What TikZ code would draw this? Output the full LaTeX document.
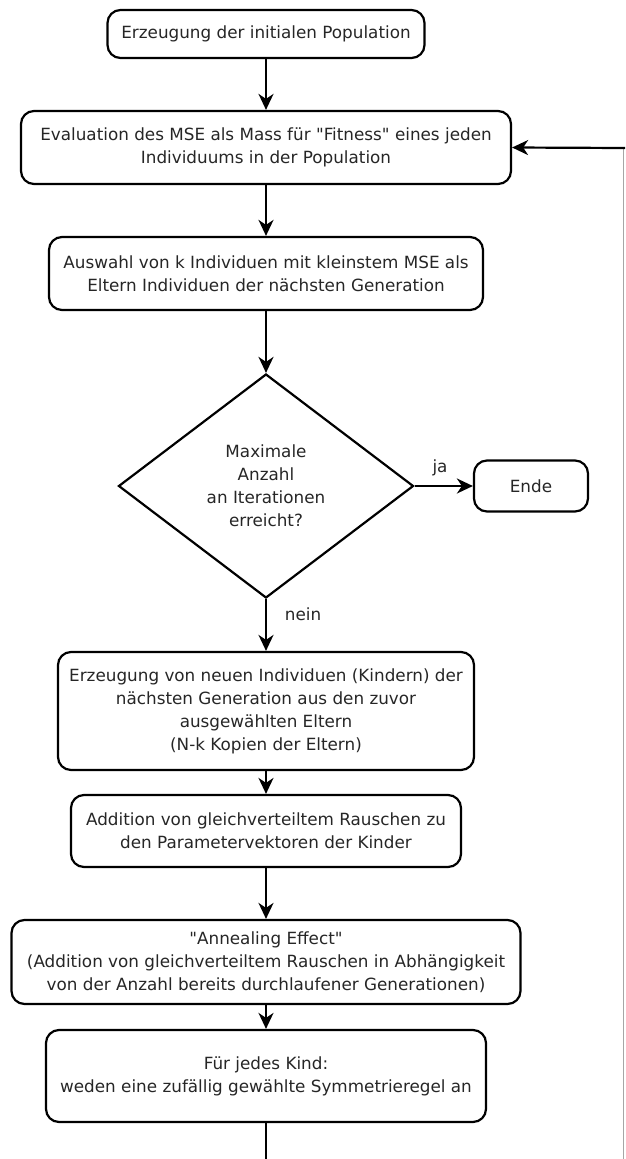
\documentclass[tikz,border=0pt]{standalone}
\usepackage{fontspec}
\setmainfont{DejaVu Sans}[Ligatures=TeXOff]
\usetikzlibrary{shapes.geometric,arrows.meta}
\begin{document}
\begin{tikzpicture}[x=1pt,y=-1pt,
  every node/.style={font=\fontsize{16.8}{23}\selectfont, text=black!85},
  box/.style={draw=black, line width=2.2pt, rounded corners=13pt, align=center, inner sep=0pt},
  dec/.style={draw=black, line width=2.2pt, shape=diamond, align=center, inner sep=0pt},
  flow/.style={line width=2.2pt, -{Stealth[length=16pt,width=15pt,inset=5pt]}},
  plain/.style={line width=2.2pt}
]
\useasboundingbox (0,0) rectangle (625,1159);
\node[box, minimum width=317pt, minimum height=48pt] (b1) at (266,34) {Erzeugung der initialen Population};
\node[box, minimum width=490pt, minimum height=73pt] (b2) at (266,147.5) {Evaluation des MSE als Mass für "Fitness" eines jeden\\Individuums in der Population};
\node[box, minimum width=434pt, minimum height=73pt] (b3) at (266,273.5) {Auswahl von k Individuen mit kleinstem MSE als\\Eltern Individuen der nächsten Generation};
\node[dec, minimum width=295pt, minimum height=224pt] (d) at (266,486) {Maximale\\Anzahl\\an Iterationen\\erreicht?};
\node[box, minimum width=114pt, minimum height=51pt] (end) at (531,486) {Ende};
\node[box, minimum width=416pt, minimum height=118pt] (b5) at (266,711) {Erzeugung von neuen Individuen (Kindern) der\\nächsten Generation aus den zuvor\\ausgewählten Eltern\\(N-k Kopien der Eltern)};
\node[box, minimum width=390pt, minimum height=72pt] (b6) at (266,831) {Addition von gleichverteiltem Rauschen zu\\den Parametervektoren der Kinder};
\node[box, minimum width=509pt, minimum height=84pt] (b7) at (266,962) {"Annealing Effect"\\(Addition von gleichverteiltem Rauschen in Abhängigkeit\\von der Anzahl bereits durchlaufener Generationen)};
\node[box, minimum width=440pt, minimum height=92pt] (b8) at (266,1076) {Für jedes Kind:\\weden eine zufällig gewählte Symmetrieregel an};
\node (ja) at (440,468) {ja};
\node (nein) at (303,614) {nein};
\coordinate (bot) at (266,1159);
\coordinate (loopB) at (623.5,1159);
\coordinate (loopT) at (623.5,148);
\coordinate (loopE) at (625,148);
\draw[flow] (b1) -- (b2);
\draw[flow] (b2) -- (b3);
\draw[flow] (b3) -- (d);
\draw[flow] (d.east) -- (end.west);
\draw[flow] (d.south) -- (b5.north);
\draw[flow] (b5) -- (b6);
\draw[flow] (b6) -- (b7);
\draw[flow] (b7) -- (b8);
\draw[plain] (b8.south) -- (bot);
\draw[gray!70, line width=0.8pt] (loopB) -- (loopT);
\draw[flow] (loopE) -- (b2.east);
\end{tikzpicture}
\end{document}
